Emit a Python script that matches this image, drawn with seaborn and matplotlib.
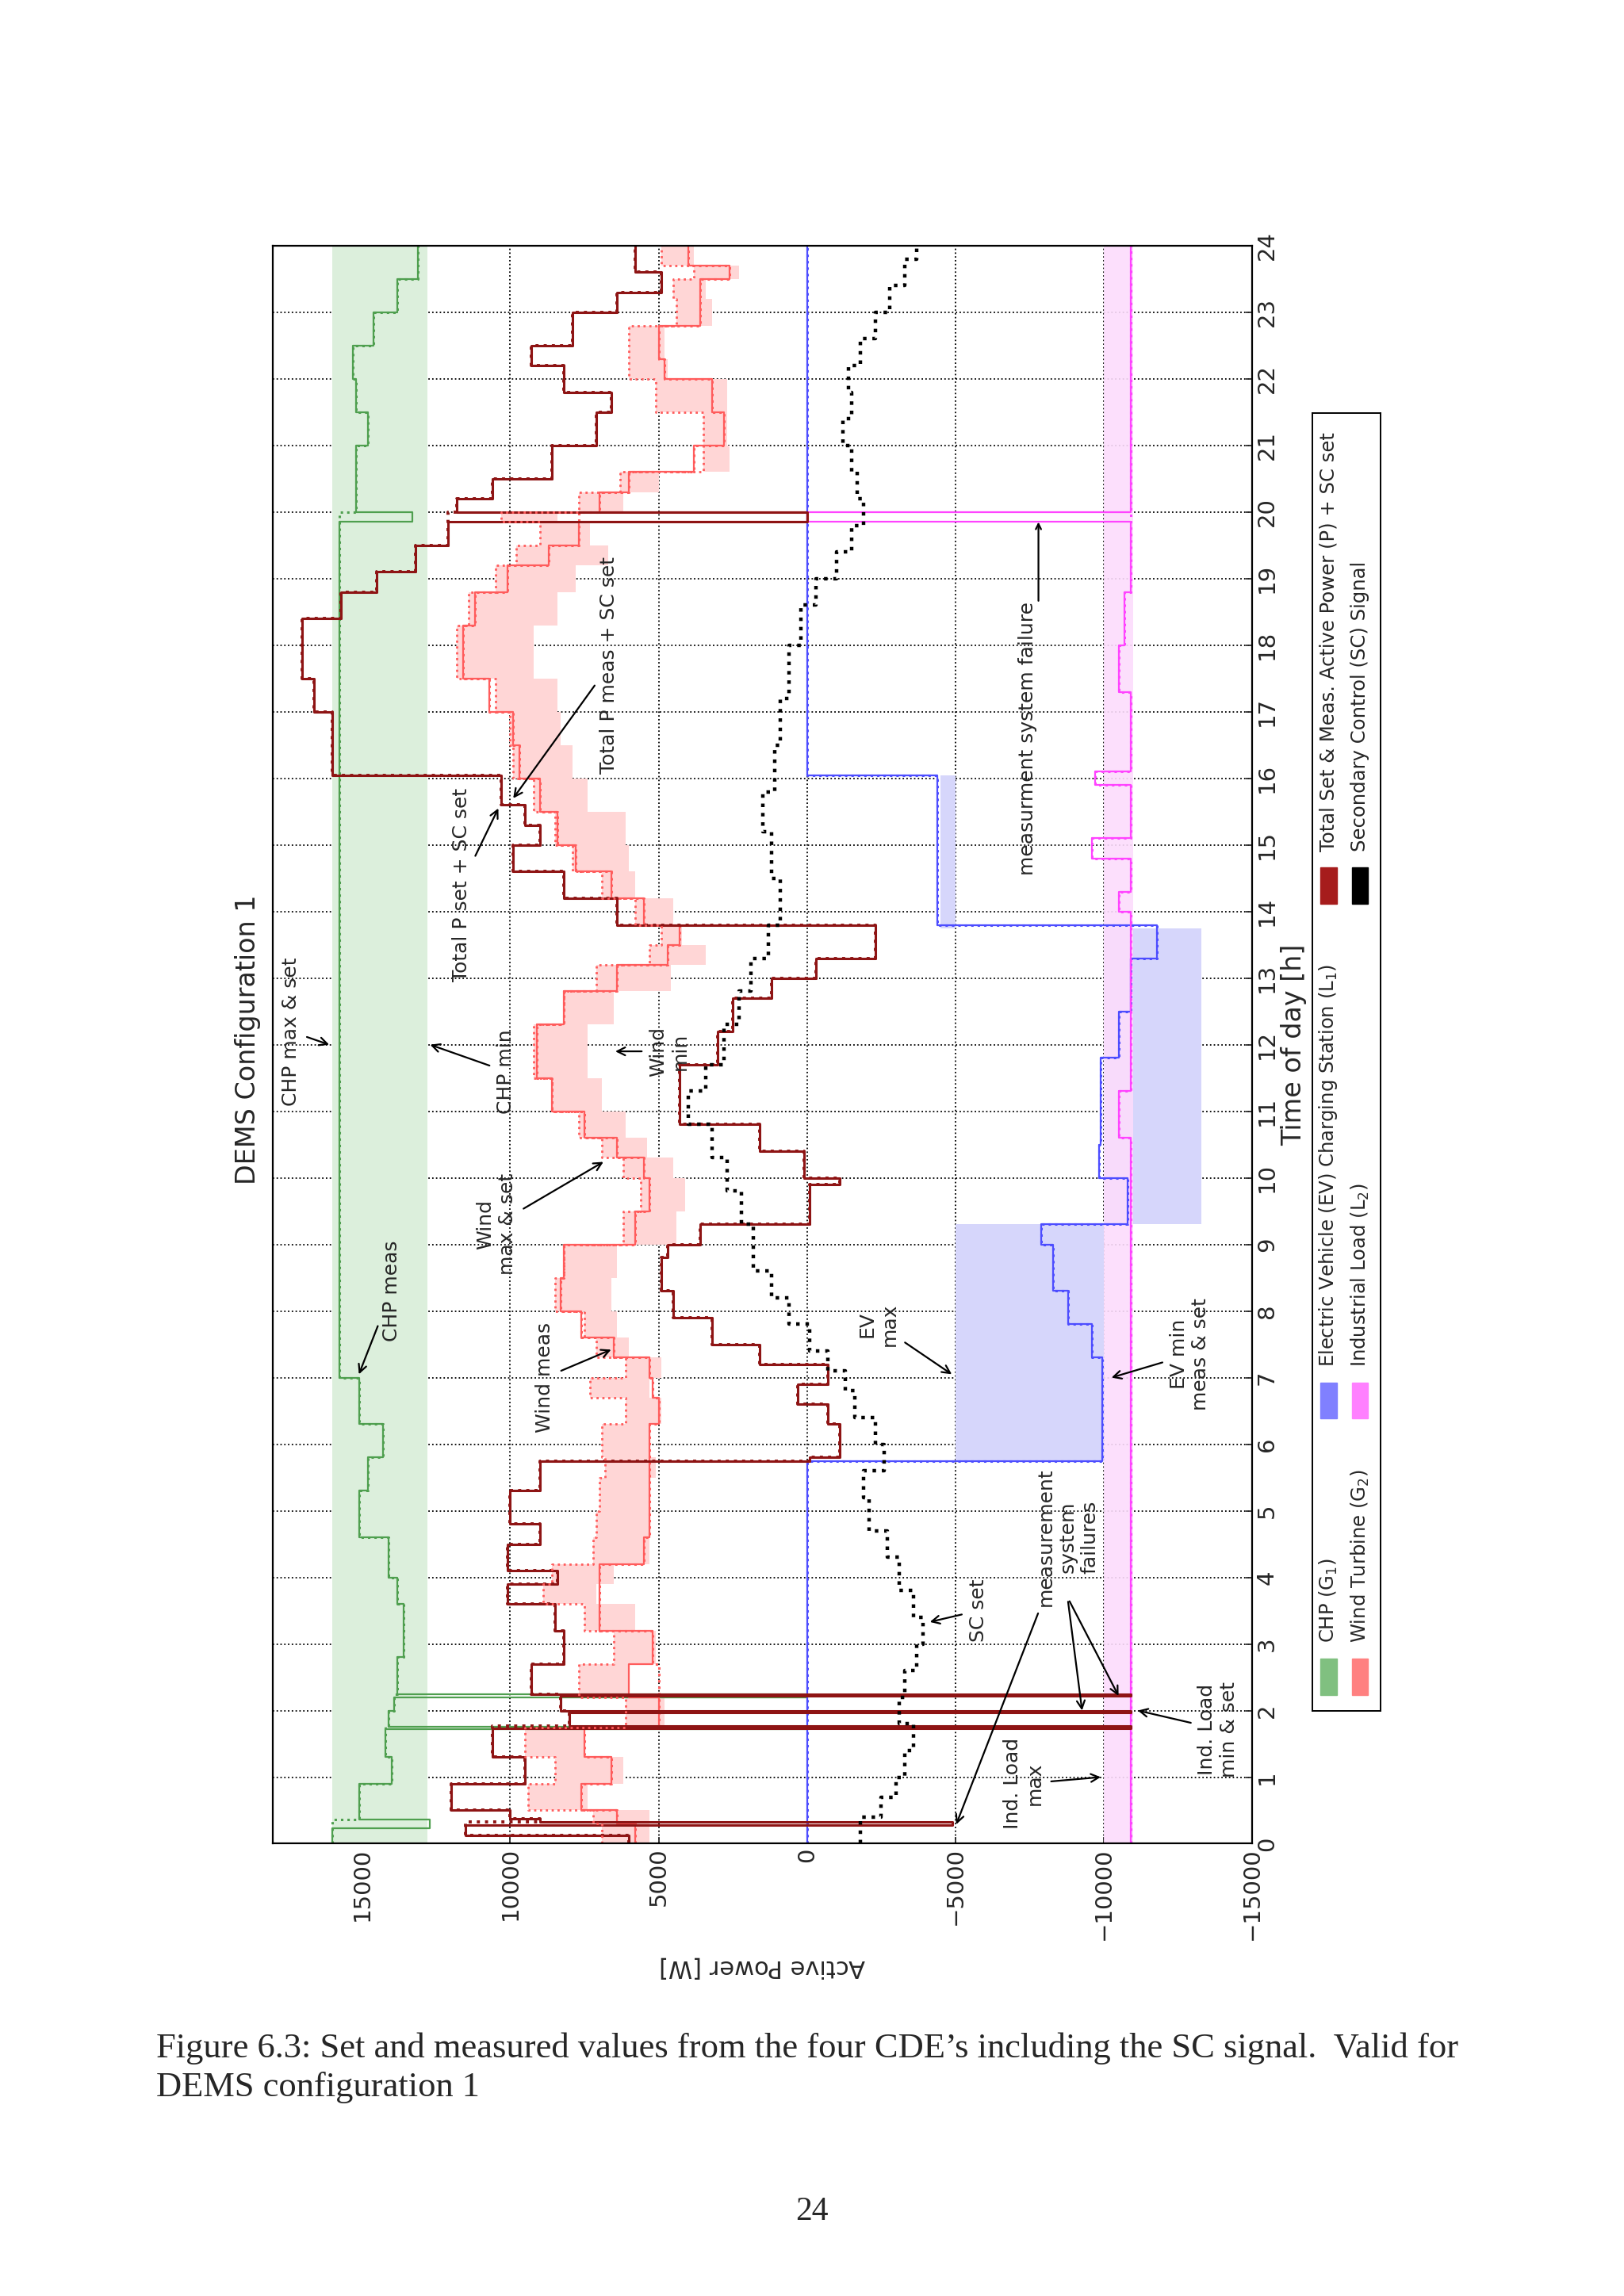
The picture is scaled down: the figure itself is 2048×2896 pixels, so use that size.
import numpy as np
import matplotlib
matplotlib.use("Agg")
import matplotlib.pyplot as plt
import seaborn as sns

# ---- data (time in h, power in W) ----
failure_starts = [0.23, 0.28, 1.72, 1.73, 1.97, 2.2, 2.22, 19.85]

chp_band_t = [0.0]
chp_max = [16000]
chp_min = [12800]
chp_t = [0, 0.23, 0.36, 0.9, 1.3, 1.72, 1.76, 2.0, 2.2, 2.25, 2.8, 3.6, 4.0, 4.6, 5.3,
         5.8, 6.3, 7.0, 19.85, 20.0, 21.0, 21.5, 22.0, 22.5, 23.0, 23.5]
chp_meas = [16000, 12700, 15100, 14000, 14200, 0, 14100, 13900, 0, 13800, 13600, 13800,
            14100, 15100, 14800, 14300, 15100, 15750, 13300, 15200, 14800, 15200, 15300,
            14600, 13800, 13100]

wind_t = [0, 0.3, 0.5, 0.9, 1.3, 1.75, 2.2, 2.7, 3.2, 3.6, 3.9, 4.2, 4.6, 5.0, 5.5,
          5.8, 6.3, 6.7, 7.0, 7.3, 7.6, 8.0, 8.5, 9.0, 9.5, 10.0, 10.3, 10.6, 11.0, 11.5,
          12.3, 12.8, 13.2, 13.5, 13.8, 14.2, 14.6, 15.0, 15.5, 16.0, 16.5, 17.0, 17.5,
          18.3, 18.8, 19.2, 19.5, 19.85, 20.0, 20.3, 20.6, 21.0, 21.5, 22.0, 22.3, 22.8,
          23.2, 23.5, 23.7]
wind_max = [6900, 7200, 9400, 8500, 9500, 6100, 7700, 6500, 7500, 8900, 8600, 7200, 7100,
            7000, 6800, 6900, 6100, 7300, 6100, 7100, 7500, 8500, 8200, 6200, 5600, 6200,
            6900, 7700, 8600, 9200, 8200, 7100, 5300, 4900, 5800, 6900, 7900, 8500, 9200,
            9900, 10000, 10500, 11800, 11400, 10500, 9800, 9000, 10300, 7700, 6300, 3500,
            3500, 5100, 6000, 6000, 4400, 4500, 3800, 4900]
wind_min = [5300, 5300, 7400, 6200, 7500, 4800, 6000, 5100, 5800, 7100, 6500, 5300, 5300,
            5300, 5100, 5300, 4900, 5300, 4900, 6000, 6400, 6600, 6400, 4400, 4100, 4500,
            5400, 6100, 6900, 7400, 6500, 4600, 3400, 4200, 4500, 5800, 6000, 6100, 7400,
            7900, 8300, 8400, 9200, 8400, 7800, 6700, 7300, 8400, 6200, 5000, 2600, 2700,
            2700, 4700, 4800, 3200, 3400, 2300, 3800]
wind_meas = [5800, 6400, 7600, 6600, 7500, 5000, 6000, 5200, 7000, 7000, 7000, 5500, 5300,
             5300, 5300, 5300, 5000, 5200, 5300, 6500, 7600, 8300, 8200, 5800, 5300, 5500,
             6400, 7500, 8600, 9100, 8200, 6400, 4700, 4300, 5500, 6600, 7800, 8400, 9000,
             9700, 9900, 10700, 11600, 11200, 10100, 8700, 7700, 0, 7000, 6000, 3800, 2800,
             3200, 4800, 5000, 3600, 3600, 2600, 4000]

total_t = [0, 0.12, 0.28, 0.33, 0.38, 0.5, 0.9, 1.3, 1.73, 1.77, 1.97, 1.99, 2.22, 2.25,
           2.7, 3.2, 3.6, 3.9, 4.1, 4.5, 4.8, 5.3, 5.75, 5.8, 6.3, 6.6, 6.9, 7.2, 7.5, 7.9,
           8.3, 8.8, 9.0, 9.3, 9.9, 10.0, 10.4, 10.8, 11.7, 12.2, 12.7, 13.0, 13.3, 13.8,
           14.2, 14.6, 15.0, 15.3, 15.6, 16.05, 17.0, 17.5, 18.4, 18.8, 19.1, 19.5, 19.85,
           20.0, 20.2, 20.5, 21.0, 21.5, 21.8, 22.2, 22.5, 23.0, 23.3, 23.6]
total_meas = [6000, 11500, -4900, 9000, 10000, 12000, 9500, 10600, -10900, 8000, -10900,
              8300, -10900, 9300, 8200, 8500, 10100, 8400, 10100, 9000, 10000, 9000, -100,
              -1100, -700, 300, -700, 1600, 3200, 4500, 4900, 4700, 3600, -100, -1100, 100,
              1600, 4300, 3000, 2500, 1200, -300, -2300, 6400, 8200, 9900, 9000, 9500, 10300,
              16000, 16600, 17000, 15700, 14500, 13200, 12100, 0, 11800, 10600, 8600, 7100,
              6600, 8200, 9300, 7900, 6400, 4900, 5800]

ev_t = [0, 5.75, 7.3, 7.8, 8.3, 9.0, 9.3, 10.0, 10.5, 11.8, 12.5, 13.3, 13.8, 16.05]
ev_meas = [0, -9950, -9600, -8800, -8300, -7900, -10800, -9850, -9900, -10500, -10900,
           -11800, -4400, 0]
ev_band_t = [5.75, 9.3, 13.75]
ev_max = [-5000, -10000, -4500]
ev_min = [-10000, -13300, -5000]
ev_band_end = 16.05

ind_band_t = [0.0]
ind_max = [-10000]
ind_min = [-11000]
ind_t = [0, 10.6, 11.3, 14.0, 14.3, 14.8, 15.1, 15.9, 16.1, 17.3, 18.0, 18.8, 19.85, 20.0]
ind_meas = [-10900, -10500, -10900, -10500, -10900, -9600, -10900, -9700, -10900, -10500,
            -10700, -10900, 0, -10900]

sc_t = [0, 0.4, 0.7, 1.0, 1.4, 1.8, 2.2, 2.6, 3.0, 3.4, 3.8, 4.3, 4.7, 5.2, 5.6, 6.0, 6.4,
        6.8, 7.1, 7.4, 7.8, 8.2, 8.6, 9.3, 9.8, 10.3, 10.8, 11.3, 11.7, 12.3, 12.8, 13.3,
        13.8, 14.5, 15.2, 15.8, 16.5, 17.2, 18.0, 18.6, 19.0, 19.4, 19.8, 20.2, 20.6, 21.0,
        21.4, 21.8, 22.2, 22.6, 23.0, 23.4, 23.8]
sc_set = [-1800, -2500, -3000, -3300, -3600, -3100, -3300, -3700, -3900, -3600, -3100,
          -2700, -2100, -1900, -2600, -2300, -1600, -1300, -700, -100, 600, 1200, 1800,
          2200, 2700, 3200, 4000, 3400, 2800, 2300, 1900, 1300, 900, 1200, 1500, 1100, 900,
          600, 200, -300, -1000, -1500, -1900, -1700, -1500, -1200, -1500, -1400, -1800,
          -2300, -2800, -3300, -3700]

c_chp, c_chp_band = "#4f9f4f", "#dcefdc"
c_wind, c_wind_band = "#ff5c5c", "#ffd6d6"
c_total = "#8e1414"
c_ev, c_ev_band = "#4d4dff", "#d6d6fb"
c_ind, c_ind_band = "#ff44ff", "#fcdcfc"


def steps(t, v, end=24.0):
    t = np.append(np.asarray(t, float), end)
    return np.repeat(t, 2)[1:-1], np.repeat(np.asarray(v, float), 2)


def no_fail(t, v):
    t = np.asarray(t, float)
    v = np.asarray(v, float)
    keep = ~np.isin(t, failure_starts)
    return t[keep], v[keep]


def line(ax, t, v, color, lw, ls="-", end=24.0):
    tt, vv = steps(t, v, end)
    sns.lineplot(x=vv, y=tt, sort=False, estimator=None, color=color, lw=lw,
                 linestyle=ls, ax=ax, legend=False)


def band(ax, t, a, b, color, end=24.0, alpha=1.0):
    tt, aa = steps(t, a, end)
    _, bb = steps(t, b, end)
    ax.fill_betweenx(tt, aa, bb, color=color, alpha=alpha, lw=0)


sns.set_theme(style="white")
plt.rcParams['font.family'] = ['DejaVu Sans']

fig = plt.figure(figsize=(20.48, 28.96), dpi=100)
ax = fig.add_axes([0.168, 0.197, 0.603, 0.696])

band(ax, chp_band_t, chp_max, chp_min, c_chp_band)
band(ax, wind_t, wind_max, wind_min, c_wind_band)
band(ax, ev_band_t, ev_max, ev_min, c_ev_band, end=ev_band_end)
band(ax, ind_band_t, ind_max, ind_min, c_ind_band, alpha=0.9)

for t, v, c, lw in [(chp_t, chp_meas, c_chp, 1.6), (wind_t, wind_meas, c_wind, 1.6),
                    (ev_t, ev_meas, c_ev, 1.6), (ind_t, ind_meas, c_ind, 1.6),
                    (total_t, total_meas, c_total, 2.2)]:
    line(ax, t, v, c, lw)
    ts, vs = no_fail(t, v)
    line(ax, ts, vs, c, lw + 0.6, ls=":")
line(ax, wind_t, wind_max, c_wind, 2.0, ls=":")
line(ax, sc_t, sc_set, "black", 3.2, ls=":")

ax.set_xlim(18000, -15000)
ax.set_ylim(0, 24)
ax.set_xticks(np.arange(-15000, 15001, 5000))
ax.set_yticks(np.arange(0, 25, 1))
ax.grid(True, color="black", linestyle=":", lw=1.3)
ax.yaxis.tick_right()
ax.yaxis.set_label_position("right")
ax.tick_params(axis="x", labelrotation=90, labelsize=21, length=6, direction="in", bottom=True)
ax.tick_params(axis="y", labelrotation=90, labelsize=21, length=6, direction="in", right=True)
for lab in ax.get_yticklabels():
    lab.set_va("center")
for s in ax.spines.values():
    s.set_color("black")
    s.set_linewidth(1.6)
ax.set_xlabel("Active Power [W]", fontsize=22, rotation=180, labelpad=14)
ax.set_ylabel("Time of day [h]", fontsize=24, rotation=90, labelpad=2)
ax.text(-0.012, 0.503, "DEMS Configuration 1", transform=ax.transAxes, rotation=90,
        ha="right", va="center", fontsize=24)

arrow = dict(arrowstyle="->", color="black", lw=1.6, shrinkA=4, shrinkB=0)
notes = [
    ("CHP max & set", (16100, 12.0), (17400, 12.2)),
    ("CHP meas", (15100, 7.05), (14000, 8.3)),
    ("CHP min", (12700, 12.0), (10150, 11.6)),
    ("Total P set + SC set", (10400, 15.55), (11650, 14.4)),
    ("Total P meas + SC set", (9900, 15.7), (6660, 17.7)),
    ("Wind\nmax & set", (6860, 10.24), (10460, 9.3)),
    ("Wind\nmin", (6460, 11.9), (4640, 11.9)),
    ("Wind meas", (6600, 7.42), (8830, 7.0)),
    ("EV\nmax", (-4880, 7.05), (-2400, 7.8)),
    ("EV min\nmeas & set", (-10260, 7.0), (-12900, 7.35)),
    ("SC set", (-4140, 3.33), (-5770, 3.5)),
    ("measurement\nsystem\nfailures", (-5030, 0.29), (-8780, 4.6)),
    ("", (-9270, 2.0), (-8780, 3.7)),
    ("", (-10500, 2.22), (-8780, 3.7)),
    ("Ind. Load\nmax", (-9900, 1.0), (-7300, 0.9)),
    ("Ind. Load\nmin & set", (-11150, 2.0), (-13860, 1.72)),
]
for txt, xy, xyt in notes:
    ax.annotate(txt, xy=xy, xytext=xyt, rotation=90, ha="center", va="center",
                multialignment="center", fontsize=18, arrowprops=arrow, zorder=10)
ax.annotate("", xy=(-7800, 19.85), xytext=(-7800, 18.6), arrowprops=arrow)
ax.text(-7450, 16.6, "measurment system failure", rotation=90, ha="center", va="center",
        fontsize=18)

# legend (rotated)
lax = fig.add_axes([0.808, 0.255, 0.042, 0.565])
lax.set_xlim(0, 1)
lax.set_ylim(0, 1)
lax.set_xticks([])
lax.set_yticks([])
for s in lax.spines.values():
    s.set_color("black")
    s.set_linewidth(1.4)
entries = [
    (0.24, 0.012, "#80c080", "CHP (G$_1$)"),
    (0.24, 0.225, "#8080ff", "Electric Vehicle (EV) Charging Station (L$_1$)"),
    (0.24, 0.622, "#a61c1c", "Total Set & Meas. Active Power (P) + SC set"),
    (0.70, 0.012, "#ff8080", "Wind Turbine (G$_2$)"),
    (0.70, 0.225, "#ff80ff", "Industrial Load (L$_2$)"),
    (0.70, 0.622, "black", "Secondary Control (SC) Signal"),
]
for x, y, c, s in entries:
    lax.add_patch(plt.Rectangle((x - 0.12, y), 0.24, 0.028, color=c))
    lax.text(x, y + 0.04, s, rotation=90, ha="center", va="bottom", fontsize=17.5)

cap = dict(family=["Liberation Serif", "DejaVu Serif"], fontsize=32, ha="left")
fig.text(0.096, 0.104, "Figure 6.3: Set and measured values from the four CDE\u2019s including "
         "the SC signal.  Valid for", **cap)
fig.text(0.096, 0.087, "DEMS configuration 1", **cap)
fig.text(0.5, 0.033, "24", family=["Liberation Serif", "DejaVu Serif"], fontsize=30,
         ha="center")

fig.savefig("out.png", dpi=100)
